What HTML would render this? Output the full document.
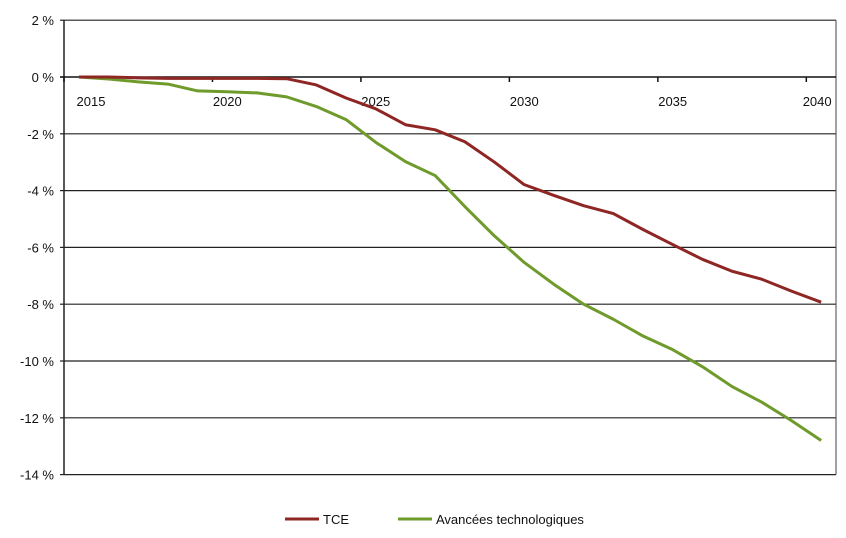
<!DOCTYPE html>
<html><head><meta charset="utf-8"><style>
body{margin:0;background:#fff;}
svg{display:block;font-family:"Liberation Sans",sans-serif;}
</style></head><body>
<svg id="chart" width="846" height="538"></svg>
<script>
const years=[2015,2016,2017,2018,2019,2020,2021,2022,2023,2024,2025,2026,2027,2028,2029,2030,2031,2032,2033,2034,2035,2036,2037,2038,2039,2040];
const tceValues=[0,0,-0.03,-0.05,-0.05,-0.05,-0.05,-0.06,-0.28,-0.74,-1.12,-1.68,-1.86,-2.28,-3.0,-3.79,-4.17,-4.53,-4.81,-5.37,-5.9,-6.42,-6.84,-7.12,-7.54,-7.93];
const avanceesValues=[0,-0.07,-0.17,-0.25,-0.49,-0.52,-0.56,-0.7,-1.04,-1.5,-2.3,-2.98,-3.47,-4.56,-5.6,-6.53,-7.3,-8.0,-8.53,-9.12,-9.6,-10.2,-10.9,-11.45,-12.1,-12.8];
const yTicks=[2,0,-2,-4,-6,-8,-10,-12,-14];
const xLabelYears=[2015,2020,2025,2030,2035,2040];
const NS="http://www.w3.org/2000/svg";
const svg=document.getElementById('chart');
const L=64,R=836,catW=(R-L)/years.length;
function x(i){return L+catW*(i+0.5);}
function y(v){return 77-v*28.4;}
function el(t,a){const e=document.createElementNS(NS,t);for(const k in a)e.setAttribute(k,a[k]);svg.appendChild(e);return e;}
yTicks.forEach(v=>{
  if(v!==0){const g=el('line',{x1:L,x2:R,y1:y(v),y2:y(v),stroke:'#222','stroke-width':1.2});
  
  }
  const tk=el('line',{x1:L-4,x2:L,y1:y(v),y2:y(v),stroke:'#222','stroke-width':1.2});
  
  
  const t=el('text',{x:54,y:y(v)+5,'text-anchor':'end','font-size':13,fill:'#111'});
  t.textContent=v+' %';
  
  
});
const ya=el('line',{x1:L,x2:L,y1:y(2),y2:y(-14),stroke:'#222','stroke-width':1.5});


const ra=el('line',{x1:R,x2:R,y1:y(2),y2:y(-14),stroke:'#444','stroke-width':1});


const xa=el('line',{x1:L-4,x2:R,y1:y(0),y2:y(0),stroke:'#111','stroke-width':1.6});


for(let i=0;i<=years.length;i+=5){
  const tk=el('line',{x1:L+catW*i,x2:L+catW*i,y1:y(0),y2:y(0)+5,stroke:'#111','stroke-width':1.5});
  
  
}
xLabelYears.forEach((yr,k)=>{
  const i=years.indexOf(yr);
  let px=x(i);
  if(k===0)px=91;
  if(k===xLabelYears.length-1)px=x(i)-4;
  const t=el('text',{x:px,y:106,'text-anchor':'middle','font-size':13,fill:'#111'});
  t.textContent=yr;
  
  
});
function series(vals,color,name){
  const p=el('polyline',{points:vals.map((v,i)=>x(i)+','+y(v)).join(' '),fill:'none',stroke:color,'stroke-width':3,'stroke-linejoin':'round'});
  
  
}
series(avanceesValues,'#6f9a2c','series-avancees-technologiques');
series(tceValues,'#8e2624','series-tce');
function legend(x1,color,label,name){
  const l=el('line',{x1:x1,x2:x1+34,y1:519,y2:519,stroke:color,'stroke-width':3});
  
  
  const t=el('text',{x:x1+38,y:524,'font-size':13,fill:'#111'});
  t.textContent=label;
  
  
}
legend(285,'#8e2624','TCE','legend-entry-tce');
legend(398,'#6f9a2c','Avancées technologiques','legend-entry-avancees');
</script>
</body></html>
